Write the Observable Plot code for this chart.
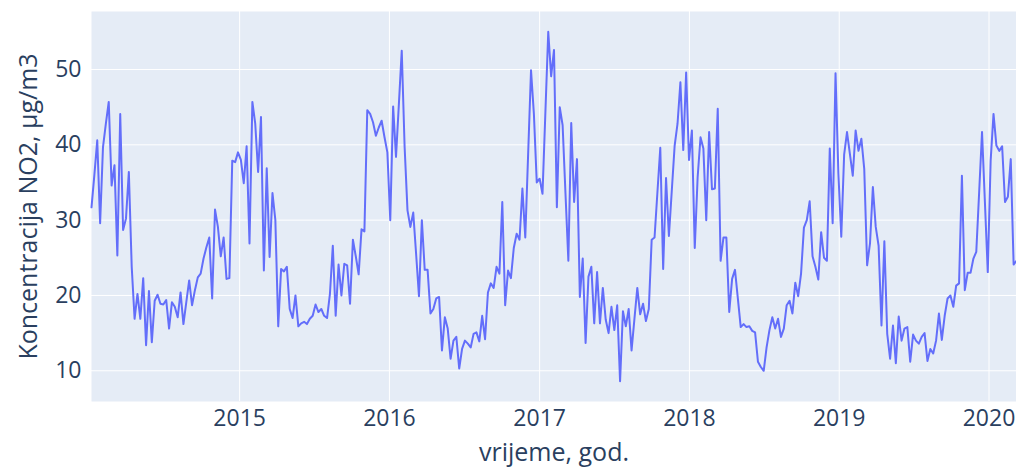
<!DOCTYPE html>
<html>
<head>
<meta charset="utf-8">
<script src="https://cdn.jsdelivr.net/npm/d3@7"></script>
<script src="https://cdn.jsdelivr.net/npm/@observablehq/plot@0.6"></script>
<style>
  html, body { margin: 0; padding: 0; background: #ffffff; }
  #chart { width: 1016px; height: 468px; }
</style>
</head>
<body>
<div id="chart"></div>
<script>
// Weekly NO2 concentration (µg/m3), first week starting 2014-01-05
const startDate = "2014-01-05";
const values2014 = [31.7, 36.0, 40.6, 29.6, 39.7, 42.8, 45.7, 34.6, 37.3, 25.3, 44.1, 28.7, 30.2, 36.4, 23.8, 16.9, 20.2, 16.9, 22.3, 13.4, 20.6, 13.8, 19.3, 20.1, 18.9, 18.8, 19.4, 15.6, 19.1, 18.5, 17.1, 20.4, 16.2, 19.1, 22.0, 18.7, 20.7, 22.4, 22.9, 24.9, 26.4, 27.7, 19.6, 31.4, 29.1, 25.2, 27.7, 22.2, 22.3, 37.9, 37.7, 39.0];
const values2015 = [38.0, 34.9, 39.8, 26.9, 45.7, 42.8, 36.4, 43.7, 23.3, 36.9, 25.1, 33.6, 30.0, 15.9, 23.5, 23.2, 23.8, 18.2, 17.0, 20.0, 15.9, 16.3, 16.5, 16.2, 16.9, 17.3, 18.8, 17.8, 18.2, 17.3, 17.0, 20.2, 26.6, 17.3, 24.1, 20.0, 24.2, 24.0, 18.9, 27.4, 25.2, 22.8, 28.8, 28.5, 44.6, 44.1, 43.0, 41.2, 42.3, 43.2, 41.0, 39.0];
const values2016 = [30.0, 45.1, 38.4, 45.4, 52.5, 39.7, 31.3, 29.1, 31.0, 25.5, 19.9, 30.0, 23.4, 23.4, 17.6, 18.2, 19.6, 19.8, 12.7, 17.1, 15.6, 11.6, 14.0, 14.5, 10.3, 12.9, 14.0, 13.6, 13.1, 14.9, 15.1, 13.9, 17.3, 14.2, 20.4, 21.6, 21.0, 23.8, 22.9, 32.4, 18.7, 23.3, 22.3, 26.3, 28.2, 27.4, 34.2, 27.7, 38.8, 49.9, 44.1, 35.0];
const values2017 = [35.5, 33.5, 44.3, 55.0, 49.1, 52.6, 31.7, 45.0, 42.6, 33.5, 24.6, 42.9, 32.4, 38.1, 19.8, 24.9, 13.7, 22.5, 23.8, 16.3, 23.1, 16.3, 21.0, 16.8, 15.0, 18.5, 15.4, 18.7, 8.6, 17.9, 15.9, 18.2, 12.7, 16.9, 21.0, 17.5, 18.9, 16.6, 18.2, 27.4, 27.7, 33.7, 39.6, 23.5, 35.6, 27.9, 33.9, 39.9, 42.8, 48.3, 39.3, 49.6, 38.0];
const values2018 = [41.9, 26.3, 35.7, 41.0, 39.5, 30.0, 41.7, 34.1, 34.2, 44.8, 24.6, 27.7, 27.7, 17.8, 22.2, 23.4, 19.6, 15.8, 16.2, 15.8, 15.9, 15.3, 15.1, 11.2, 10.5, 10.0, 13.1, 15.4, 17.1, 15.6, 16.9, 14.5, 15.6, 18.7, 19.3, 17.6, 21.7, 19.9, 22.9, 29.0, 30.0, 32.5, 25.2, 23.8, 22.1, 28.4, 25.0, 24.6, 39.5, 29.6, 49.5, 36.2];
const values2019 = [27.8, 38.7, 41.7, 38.8, 35.9, 41.9, 39.2, 40.8, 36.8, 24.0, 26.9, 34.4, 29.1, 26.6, 16.0, 27.2, 14.9, 11.6, 16.0, 11.0, 17.2, 14.0, 15.6, 15.8, 11.2, 14.8, 14.0, 13.6, 14.5, 15.0, 11.3, 12.9, 12.3, 14.0, 17.6, 14.1, 17.3, 19.6, 20.0, 18.5, 21.3, 21.6, 35.9, 20.7, 23.0, 23.0, 24.9, 25.8, 33.7, 41.7, 32.4, 23.1];
const values2020 = [37.9, 44.1, 39.9, 39.2, 39.8, 32.4, 33.1, 38.1, 24.1, 24.6];

const xTickYears = [2015, 2016, 2017, 2018, 2019, 2020];
const yTicks = [10, 20, 30, 40, 50];
const yDomain = [5.92, 57.7];
const xTitle = "vrijeme, god.";
const yTitle = "Koncentracija NO2, μg/m3";

const allValues = [].concat(values2014, values2015, values2016, values2017, values2018, values2019, values2020);
const start = new Date(startDate + "T00:00:00Z");
const data = allValues.map((v, i) => ({date: d3.utcDay.offset(start, 7 * i), value: v}));
const xTicks = xTickYears.map(y => new Date(Date.UTC(y, 0, 1)));

const fontFamily = "'Open Sans', 'Noto Sans', sans-serif";
const chart = Plot.plot({
  width: 1016,
  height: 468,
  marginLeft: 91,
  marginRight: 0,
  marginTop: 11,
  marginBottom: 67,
  style: {fontFamily, fontSize: "23px", color: "#2a3f5f", background: "#ffffff", overflow: "visible"},
  x: {type: "utc", domain: [data[0].date, data[data.length - 1].date]},
  y: {domain: yDomain},
  marks: [
    Plot.frame({fill: "#E5ECF6", stroke: null}),
    Plot.gridX(xTicks, {stroke: "#ffffff", strokeOpacity: 1, strokeWidth: 1}),
    Plot.gridY(yTicks, {stroke: "#ffffff", strokeOpacity: 1, strokeWidth: 1}),
    Plot.line(data, {x: "date", y: "value", stroke: "#636EFA", strokeWidth: 2, strokeLinejoin: "round"}),
    Plot.axisX(xTicks, {tickSize: 0, tickPadding: 8, tickFormat: d3.utcFormat("%Y"), label: null, fontSize: 23, fill: "#2a3f5f"}),
    Plot.axisY(yTicks, {tickSize: 0, tickPadding: 10, label: null, fontSize: 23, fill: "#2a3f5f"}),
    Plot.text([xTitle], {text: d => d, frameAnchor: "bottom", dy: 51, lineAnchor: "middle", fontSize: 25, fill: "#2a3f5f"}),
    Plot.text([yTitle], {text: d => d, frameAnchor: "left", dx: -63, rotate: -90, lineAnchor: "middle", textAnchor: "middle", fontSize: 25, fill: "#2a3f5f"})
  ]
});
document.getElementById("chart").appendChild(chart);
</script>
</body>
</html>
